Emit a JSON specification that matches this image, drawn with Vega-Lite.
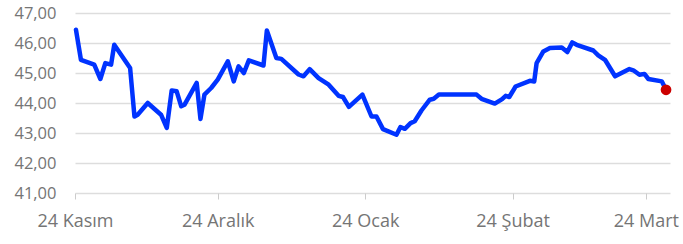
{
  "$schema": "https://vega.github.io/schema/vega-lite/v6.json",
  "width": 595,
  "height": 180,
  "autosize": "none",
  "padding": {"left": 75, "top": 13, "right": 13, "bottom": 51},
  "background": "white",
  "config": {"view": {"stroke": null}, "font": "Open Sans"},
  "data": {
    "format": {"parse": {"date": "utc:'%Y-%m-%d %H'"}},
    "values": [
      {"date": "2024-11-24 05", "value": 46.44},
      {"date": "2024-11-25 06", "value": 45.44},
      {"date": "2024-11-28 01", "value": 45.28},
      {"date": "2024-11-29 08", "value": 44.80},
      {"date": "2024-11-30 09", "value": 45.33},
      {"date": "2024-12-01 14", "value": 45.28},
      {"date": "2024-12-02 06", "value": 45.94},
      {"date": "2024-12-05 14", "value": 45.17},
      {"date": "2024-12-06 12", "value": 43.55},
      {"date": "2024-12-07 04", "value": 43.61},
      {"date": "2024-12-09 07", "value": 44.00},
      {"date": "2024-12-12 02", "value": 43.61},
      {"date": "2024-12-13 07", "value": 43.17},
      {"date": "2024-12-14 08", "value": 44.42},
      {"date": "2024-12-15 09", "value": 44.39},
      {"date": "2024-12-16 08", "value": 43.89},
      {"date": "2024-12-17 00", "value": 43.94},
      {"date": "2024-12-19 14", "value": 44.67},
      {"date": "2024-12-20 09", "value": 43.47},
      {"date": "2024-12-21 05", "value": 44.28},
      {"date": "2024-12-22 15", "value": 44.50},
      {"date": "2024-12-24 00", "value": 44.78},
      {"date": "2024-12-26 03", "value": 45.39},
      {"date": "2024-12-27 09", "value": 44.72},
      {"date": "2024-12-28 09", "value": 45.22},
      {"date": "2024-12-29 12", "value": 45.00},
      {"date": "2024-12-30 13", "value": 45.42},
      {"date": "2025-01-02 15", "value": 45.25},
      {"date": "2025-01-03 08", "value": 46.42},
      {"date": "2025-01-05 08", "value": 45.50},
      {"date": "2025-01-06 09", "value": 45.47},
      {"date": "2025-01-10 00", "value": 44.95},
      {"date": "2025-01-11 01", "value": 44.89},
      {"date": "2025-01-12 08", "value": 45.13},
      {"date": "2025-01-14 05", "value": 44.83},
      {"date": "2025-01-16 08", "value": 44.61},
      {"date": "2025-01-18 10", "value": 44.24},
      {"date": "2025-01-19 08", "value": 44.20},
      {"date": "2025-01-20 14", "value": 43.87},
      {"date": "2025-01-23 10", "value": 44.28},
      {"date": "2025-01-25 08", "value": 43.55},
      {"date": "2025-01-26 09", "value": 43.55},
      {"date": "2025-01-27 18", "value": 43.13},
      {"date": "2025-01-30 14", "value": 42.94},
      {"date": "2025-01-31 10", "value": 43.20},
      {"date": "2025-02-01 08", "value": 43.14},
      {"date": "2025-02-02 13", "value": 43.33},
      {"date": "2025-02-03 10", "value": 43.39},
      {"date": "2025-02-04 20", "value": 43.75},
      {"date": "2025-02-06 14", "value": 44.11},
      {"date": "2025-02-07 10", "value": 44.14},
      {"date": "2025-02-08 12", "value": 44.28},
      {"date": "2025-02-16 10", "value": 44.28},
      {"date": "2025-02-17 11", "value": 44.14},
      {"date": "2025-02-20 06", "value": 43.98},
      {"date": "2025-02-21 19", "value": 44.13},
      {"date": "2025-02-22 13", "value": 44.24},
      {"date": "2025-02-23 07", "value": 44.20},
      {"date": "2025-02-24 15", "value": 44.55},
      {"date": "2025-02-27 15", "value": 44.74},
      {"date": "2025-02-28 13", "value": 44.72},
      {"date": "2025-03-01 01", "value": 45.33},
      {"date": "2025-03-02 11", "value": 45.72},
      {"date": "2025-03-03 20", "value": 45.83},
      {"date": "2025-03-06 08", "value": 45.85},
      {"date": "2025-03-07 12", "value": 45.70},
      {"date": "2025-03-08 13", "value": 46.02},
      {"date": "2025-03-09 11", "value": 45.94},
      {"date": "2025-03-12 23", "value": 45.75},
      {"date": "2025-03-14 00", "value": 45.59},
      {"date": "2025-03-15 10", "value": 45.44},
      {"date": "2025-03-17 13", "value": 44.89},
      {"date": "2025-03-20 13", "value": 45.13},
      {"date": "2025-03-21 09", "value": 45.09},
      {"date": "2025-03-22 16", "value": 44.94},
      {"date": "2025-03-23 17", "value": 44.97},
      {"date": "2025-03-24 13", "value": 44.80},
      {"date": "2025-03-27 09", "value": 44.72},
      {"date": "2025-03-28 06", "value": 44.44}
    ]
  },
  "encoding": {
    "x": {
      "field": "date",
      "type": "temporal",
      "scale": {
        "type": "utc",
        "domain": [
          {"year": 2024, "month": 11, "date": 24, "utc": true},
          {"year": 2025, "month": 3, "date": 29, "hours": 2, "utc": true}
        ]
      },
      "axis": {
        "title": null,
        "domain": false,
        "grid": false,
        "ticks": true,
        "tickColor": "#cccccc",
        "tickSize": 6,
        "tickWidth": 1,
        "values": [
          {"year": 2024, "month": 11, "date": 24, "utc": true},
          {"year": 2024, "month": 12, "date": 24, "utc": true},
          {"year": 2025, "month": 1, "date": 24, "utc": true},
          {"year": 2025, "month": 2, "date": 24, "utc": true},
          {"year": 2025, "month": 3, "date": 24, "utc": true}
        ],
        "labelExpr": "utcdate(datum.value) + ' ' + ['Ocak','Şubat','Mart','Nisan','Mayıs','Haziran','Temmuz','Ağustos','Eylül','Ekim','Kasım','Aralık'][utcmonth(datum.value)]",
        "labelFontSize": 18,
        "labelColor": "#757575",
        "labelPadding": 13,
        "labelOverlap": false,
        "labelBound": false,
        "labelFlush": false
      }
    },
    "y": {
      "field": "value",
      "type": "quantitative",
      "scale": {"domain": [41, 47], "zero": false},
      "axis": {
        "title": null,
        "domain": false,
        "ticks": false,
        "grid": true,
        "gridColor": "#dddddd",
        "gridWidth": 1.5,
        "values": [41, 42, 43, 44, 45, 46, 47],
        "labelExpr": "replace(format(datum.value, '.2f'), '.', ',')",
        "labelFontSize": 16.5,
        "labelColor": "#757575",
        "labelPadding": 19
      }
    }
  },
  "layer": [
    {
      "mark": {"type": "line", "color": "#0033ff", "strokeWidth": 4.5, "strokeJoin": "round", "strokeCap": "round"}
    },
    {
      "data": {
        "format": {"parse": {"date": "utc:'%Y-%m-%d %H'"}},
        "values": [{"date": "2025-03-28 06", "value": 44.44}]
      },
      "mark": {"type": "circle", "color": "#cc0000", "size": 115, "opacity": 1}
    }
  ]
}
